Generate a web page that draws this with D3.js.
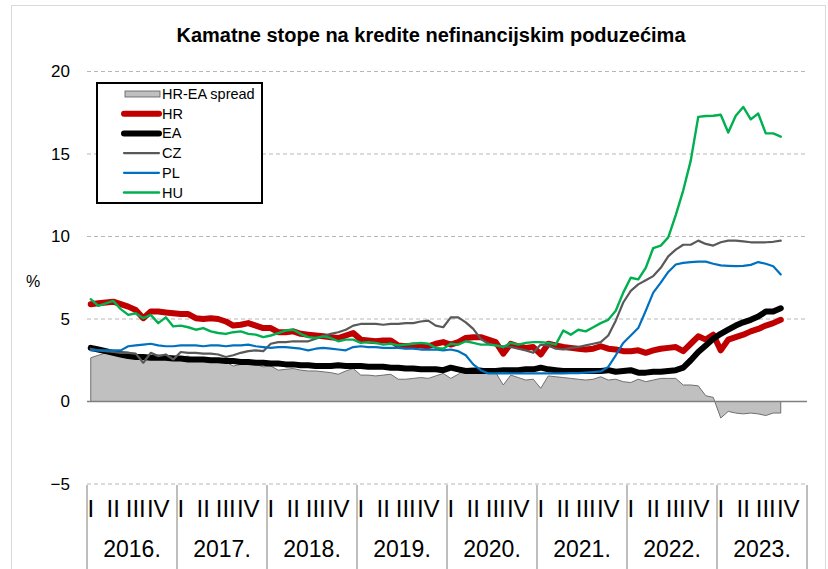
<!DOCTYPE html>
<html>
<head>
<meta charset="utf-8">
<script src="https://cdn.jsdelivr.net/npm/d3@7"></script>
<style>
  body { margin: 0; background: #fff; }
  svg { font-family: "Liberation Sans", Arial, sans-serif; }
</style>
</head>
<body>
<svg id="chart" width="828" height="569"></svg>
<script>
// monthly data, Jan 2016 - Sep 2023
var years = ["2016.", "2017.", "2018.", "2019.", "2020.", "2021.", "2022.", "2023."];
var quarters = ["I", "II", "III", "IV"];
var yTicks = [-5, 0, 5, 10, 15, 20];

var hr = [
  5.9, 5.95, 6.0, 6.05, 5.9, 5.75, 5.55, 5.05, 5.45, 5.45, 5.4, 5.35,
  5.3, 5.3, 5.05, 5.0, 5.05, 5.0, 4.85, 4.6, 4.65, 4.75, 4.6, 4.45,
  4.45, 4.2, 4.2, 4.25, 4.1, 4.05, 4.0, 3.95, 3.9, 3.85, 4.0, 4.15,
  3.75, 3.7, 3.65, 3.7, 3.7, 3.4, 3.35, 3.4, 3.4, 3.35, 3.5, 3.6,
  3.45, 3.6, 3.85, 3.9, 3.9, 3.75, 3.6, 2.9, 3.5, 3.35, 3.25, 3.3,
  2.85, 3.5, 3.4, 3.3, 3.25, 3.2, 3.15, 3.2, 3.35, 3.2, 3.15, 3.05,
  3.05, 3.1, 2.95, 3.1, 3.2, 3.25, 3.3, 3.05, 3.5, 3.95, 3.75, 4.05,
  3.1, 3.75, 3.9, 4.05, 4.25, 4.4, 4.6, 4.75, 4.95
];
var ea = [
  3.25, 3.15, 3.05, 2.95, 2.85, 2.75, 2.7, 2.7, 2.65, 2.65, 2.65, 2.6,
  2.6, 2.55, 2.55, 2.55, 2.5, 2.5, 2.45, 2.45, 2.4, 2.4, 2.35, 2.35,
  2.3, 2.3, 2.25, 2.25, 2.2, 2.2, 2.15, 2.15, 2.15, 2.2, 2.15, 2.15,
  2.15, 2.1, 2.1, 2.1, 2.05, 2.05, 2.0, 2.0, 1.95, 1.95, 1.95, 1.9,
  2.05, 1.95, 1.85, 1.85, 1.85, 1.85, 1.85, 1.9, 1.9, 1.9, 1.95, 1.95,
  2.05, 1.95, 1.9, 1.85, 1.85, 1.85, 1.85, 1.85, 1.85, 1.9, 1.8, 1.85,
  1.9, 1.75, 1.75, 1.8, 1.8, 1.85, 1.9, 2.05, 2.5, 3.0, 3.4, 3.8,
  4.1, 4.35, 4.6, 4.8, 4.95, 5.15, 5.45, 5.45, 5.65
];
var cz = [
  3.2, 3.1, 3.05, 3.0, 2.95, 2.95, 2.9, 2.35, 2.95, 2.75, 2.85, 2.55,
  3.0, 2.95, 2.95, 2.9, 2.9, 2.85, 2.7, 2.8, 2.95, 3.05, 3.1, 3.05,
  3.5, 3.6, 3.6, 3.65, 3.65, 3.65, 3.8, 3.95, 4.1, 4.2, 4.35, 4.6,
  4.7, 4.7, 4.7, 4.65, 4.7, 4.7, 4.75, 4.75, 4.85, 4.9, 4.6, 4.5,
  5.1, 5.1, 4.8, 4.4, 3.8, 3.5, 3.4, 3.35, 3.3, 3.2, 3.1, 2.95,
  3.45, 3.4, 3.2, 3.15, 3.25, 3.3, 3.4, 3.5, 3.6, 4.0, 4.9, 6.0,
  6.7, 7.1, 7.35, 7.6, 8.1, 8.8, 9.2, 9.5, 9.5, 9.75, 9.55, 9.45,
  9.65, 9.75, 9.75, 9.7, 9.65, 9.65, 9.65, 9.68, 9.75
];
var pl = [
  3.1, 3.1, 3.1, 3.1, 3.1, 3.35, 3.4, 3.45, 3.5, 3.4, 3.35, 3.35,
  3.4, 3.4, 3.4, 3.35, 3.4, 3.4, 3.35, 3.4, 3.4, 3.45, 3.35, 3.3,
  3.25, 3.3, 3.3, 3.25, 3.2, 3.1, 3.2, 3.25, 3.2, 3.15, 3.1, 3.3,
  3.35, 3.3, 3.3, 3.25, 3.25, 3.25, 3.2, 3.2, 3.15, 3.15, 3.15, 3.1,
  3.15, 3.05, 2.8, 2.25, 1.9, 1.7, 1.7, 1.72, 1.7, 1.7, 1.7, 1.7,
  1.7, 1.7, 1.7, 1.7, 1.72, 1.72, 1.75, 1.78, 1.82, 2.1, 2.8, 3.55,
  4.0, 4.45, 5.5, 6.6, 7.2, 7.85, 8.3, 8.4, 8.45, 8.48, 8.48, 8.35,
  8.25, 8.22, 8.2, 8.22, 8.28, 8.45, 8.35, 8.2, 7.7
];
var hu = [
  6.2, 5.8, 5.95, 6.1, 5.6, 5.25, 5.35, 5.05, 5.25, 4.75, 5.1, 4.55,
  4.6, 4.5, 4.35, 4.45, 4.25, 4.15, 4.1, 4.2, 4.25, 4.1, 4.05, 3.9,
  4.0, 4.15, 4.3, 4.35, 4.1, 3.9, 3.85, 3.95, 3.85, 3.65, 3.75, 3.75,
  3.55, 3.6, 3.55, 3.45, 3.5, 3.4, 3.45, 3.5, 3.55, 3.5, 3.25, 3.2,
  3.5, 3.45, 3.65, 3.55, 3.45, 3.45, 3.4, 3.3, 3.55, 3.45, 3.55, 3.6,
  3.6, 3.55, 3.45, 4.3, 4.05, 4.35, 4.25, 4.5, 4.75, 4.95, 5.5, 6.6,
  7.5, 7.4, 8.1, 9.3, 9.45, 9.95, 11.3, 12.8, 14.6, 17.25, 17.3, 17.32,
  17.38, 16.3, 17.32, 17.85, 17.1, 17.45, 16.25, 16.25, 16.05
];
// spread is HR minus EA
var spread = hr.map(function (v, i) { return +(v - ea[i]).toFixed(2); });

var svg = d3.select("#chart"),
  left = 87, right = 807;

// month categories (12 per year slot, data runs to Sep 2023)
var monthSlots = d3.range(years.length * 12);
var x = d3.scaleBand().domain(monthSlots).range([left, right]);
var xYear = d3.scaleBand().domain(years).range([left, right]);
var y = d3.scaleLinear().domain([-5, 20]).range([484, 71.5]);
var cx = function (i) { return x(i) + x.bandwidth() / 2; };

// outer frame
svg.append("rect")
  .attr("x", 11.5).attr("y", 5.5)
  .attr("width", 814).attr("height", 600)
  .attr("fill", "none").attr("stroke", "#d9d9d9");

svg.append("text")
  .attr("x", 431).attr("y", 42)
  .attr("text-anchor", "middle")
  .attr("font-size", 20).attr("font-weight", "bold")
  .text("Kamatne stope na kredite nefinancijskim poduzećima");

// gridlines
svg.append("g").selectAll("line")
  .data(yTicks.filter(function (d) { return d !== 0; }))
  .enter().append("line")
  .attr("x1", left).attr("x2", right)
  .attr("y1", function (d) { return y(d); })
  .attr("y2", function (d) { return y(d); })
  .attr("stroke", "#b7b7b7")
  .attr("stroke-dasharray", "4,3");

// y axis labels
var yAxis = svg.append("g")
  .attr("transform", "translate(" + (left - 17) + ",0)")
  .call(d3.axisLeft(y).tickValues(yTicks).tickSize(0).tickPadding(0));
yAxis.select(".domain").remove();
yAxis.selectAll("text").attr("font-size", 17).attr("fill", "#000")
  .attr("font-family", "Liberation Sans, Arial, sans-serif");

svg.append("text")
  .attr("x", 33).attr("y", 287)
  .attr("text-anchor", "middle")
  .attr("font-size", 16)
  .text("%");

// spread area
var area = d3.area()
  .x(function (d, i) { return cx(i); })
  .y0(y(0))
  .y1(function (d) { return y(d); });

svg.append("path")
  .datum(spread)
  .attr("d", area)
  .attr("fill", "#c0c0c0")
  .attr("stroke", "#6f6f6f")
  .attr("stroke-width", 1);

// zero line
svg.append("line")
  .attr("x1", left).attr("x2", right)
  .attr("y1", y(0)).attr("y2", y(0))
  .attr("stroke", "#7f7f7f").attr("stroke-width", 1.3);

var line = d3.line()
  .x(function (d, i) { return cx(i); })
  .y(function (d) { return y(d); });

var series = [
  { name: "HR", values: hr, color: "#c00000", width: 6 },
  { name: "EA", values: ea, color: "#000000", width: 6 },
  { name: "CZ", values: cz, color: "#595959", width: 2.2 },
  { name: "PL", values: pl, color: "#0070c0", width: 2.2 },
  { name: "HU", values: hu, color: "#00b050", width: 2.4 }
];

svg.append("g").selectAll("path")
  .data(series)
  .enter().append("path")
  .attr("d", function (d) { return line(d.values); })
  .attr("fill", "none")
  .attr("stroke", function (d) { return d.color; })
  .attr("stroke-width", function (d) { return d.width; })
  .attr("stroke-linejoin", "round")
  .attr("stroke-linecap", "round");

// category axis: quarters and years, with year separators
var qAxis = svg.append("g")
  .attr("transform", "translate(0,500)")
  .call(d3.axisBottom(x)
    .tickValues(monthSlots.filter(function (m) { return m % 3 === 0; }))
    .tickFormat(function (m) { return quarters[(m % 12) / 3]; })
    .tickSize(0).tickPadding(0));
qAxis.select(".domain").remove();
qAxis.selectAll("text").attr("font-size", 24).attr("fill", "#000")
  .attr("font-family", "Liberation Sans, Arial, sans-serif");

var yrAxis = svg.append("g")
  .attr("transform", "translate(0,541)")
  .call(d3.axisBottom(xYear).tickSize(0).tickPadding(0));
yrAxis.select(".domain").remove();
yrAxis.selectAll("text").attr("font-size", 23).attr("fill", "#000")
  .attr("font-family", "Liberation Sans, Arial, sans-serif");

svg.append("g").selectAll("line")
  .data(years.concat(["end"]))
  .enter().append("line")
  .attr("x1", function (d) { return d === "end" ? right : xYear(d); })
  .attr("x2", function (d) { return d === "end" ? right : xYear(d); })
  .attr("y1", y(-5) + 1).attr("y2", 569)
  .attr("stroke", "#7f7f7f");

// legend
var legend = svg.append("g").attr("transform", "translate(97,83)");
legend.append("rect")
  .attr("width", 165).attr("height", 120)
  .attr("fill", "#fff").attr("stroke", "#000").attr("stroke-width", 2);

var legendItems = [{ name: "HR-EA spread", area: true }].concat(series);
var item = legend.selectAll(".item")
  .data(legendItems)
  .enter().append("g")
  .attr("class", "item")
  .attr("transform", function (d, i) { return "translate(0," + (11 + i * 19.7) + ")"; });

item.each(function (d) {
  var g = d3.select(this);
  if (d.area) {
    g.append("rect")
      .attr("x", 28).attr("y", -3)
      .attr("width", 35).attr("height", 6)
      .attr("fill", "#c0c0c0").attr("stroke", "#595959").attr("stroke-width", 0.8);
  } else {
    g.append("line")
      .attr("x1", 27).attr("x2", 62)
      .attr("stroke", d.color)
      .attr("stroke-width", d.width)
      .attr("stroke-linecap", "round");
  }
});
item.append("text")
  .attr("x", 65).attr("y", 5)
  .attr("font-size", 14.5)
  .text(function (d) { return d.name; });
</script>
</body>
</html>
